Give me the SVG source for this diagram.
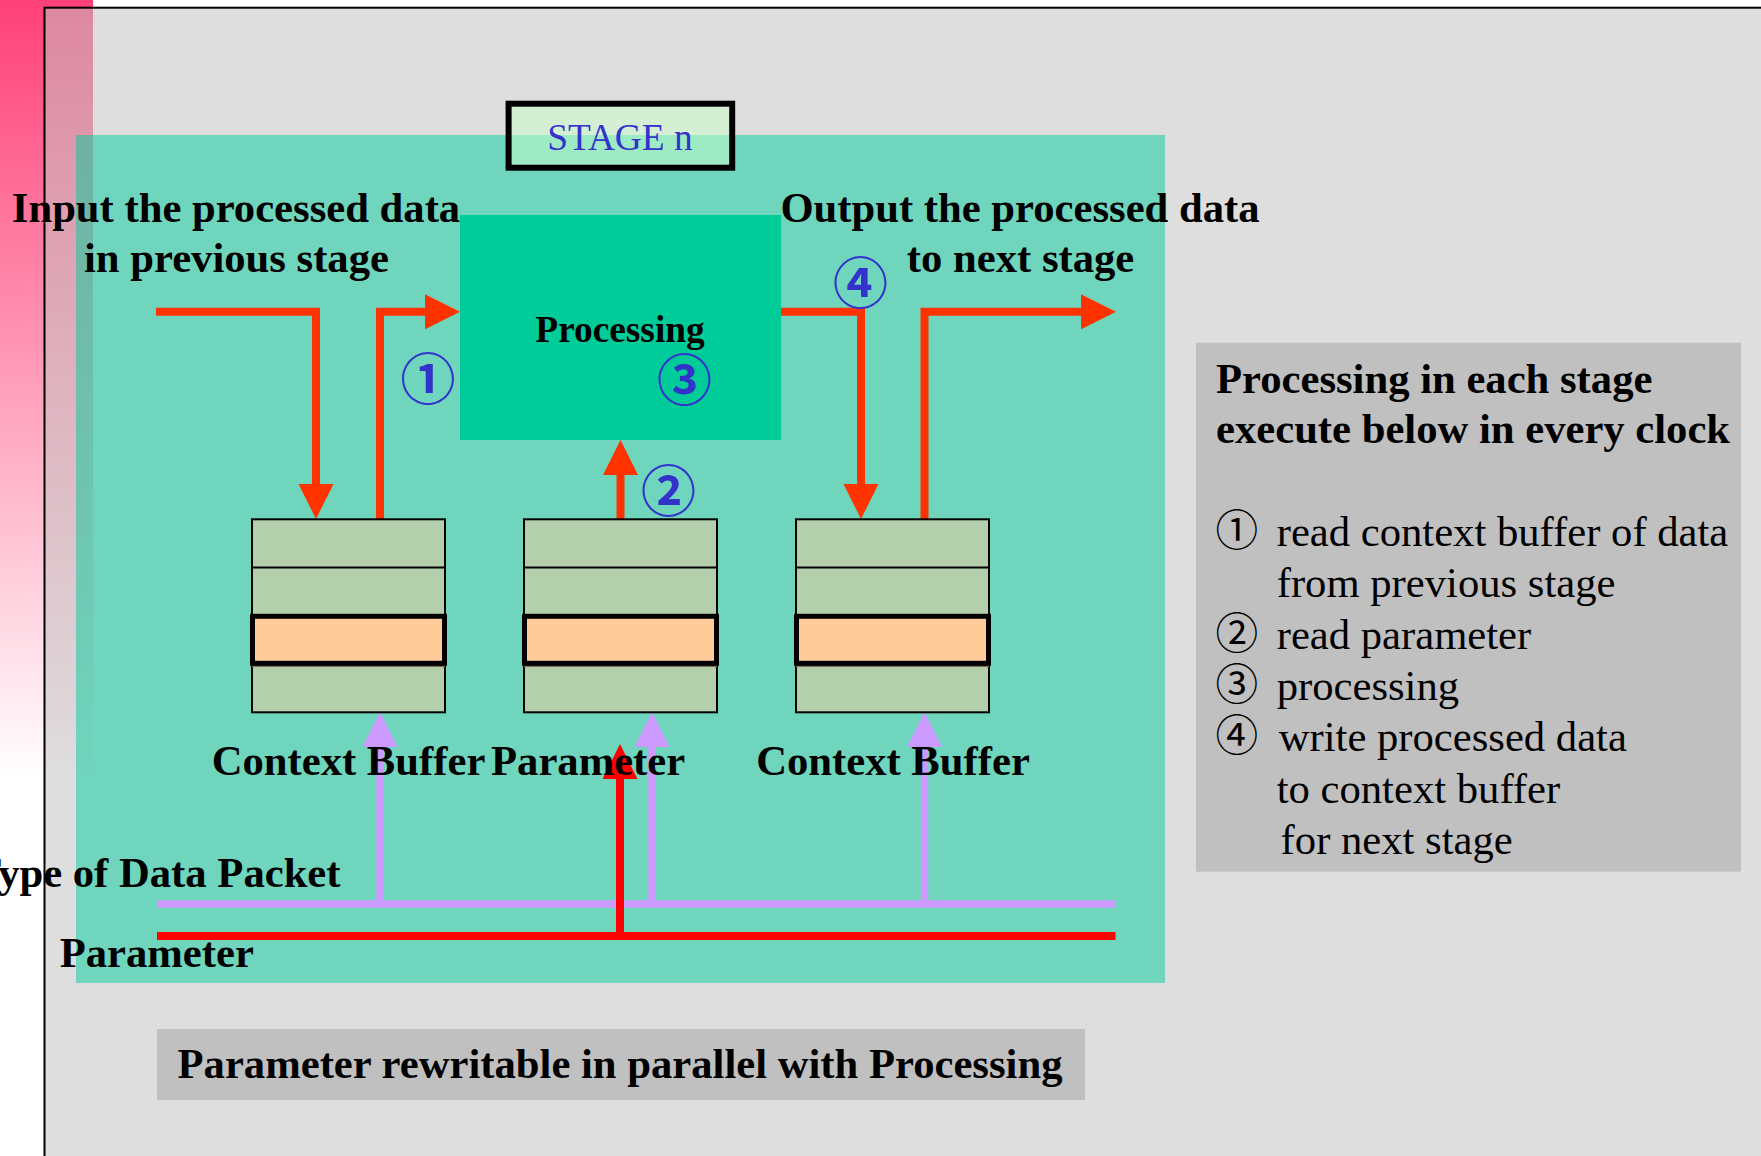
<svg xmlns="http://www.w3.org/2000/svg" width="1761" height="1156" viewBox="0 0 1761 1156">
<defs>
<linearGradient id="pink" x1="0" y1="0" x2="0" y2="780" gradientUnits="userSpaceOnUse">
<stop offset="0" stop-color="#ff4078"/>
<stop offset="1" stop-color="#ffffff"/>
</linearGradient>
<marker id="ah-o" markerUnits="userSpaceOnUse" markerWidth="36" markerHeight="36" refX="0" refY="17.5" orient="auto" viewBox="0 0 36 36"><path d="M0,0 L35,17.5 L0,35 Z" fill="#ff3300"/></marker>
<marker id="ah-r" markerUnits="userSpaceOnUse" markerWidth="36" markerHeight="36" refX="0" refY="17.5" orient="auto" viewBox="0 0 36 36"><path d="M0,0 L35,17.5 L0,35 Z" fill="#ff0000"/></marker>
<marker id="ah-l" markerUnits="userSpaceOnUse" markerWidth="36" markerHeight="36" refX="0" refY="17.5" orient="auto" viewBox="0 0 36 36"><path d="M0,0 L35,17.5 L0,35 Z" fill="#cc99ff"/></marker>
</defs>
<style>
.b{font-family:"Liberation Serif","Times New Roman",serif;font-weight:bold;font-size:42.67px;fill:#000}
.r{font-family:"Liberation Serif","Times New Roman",serif;font-size:42.67px;fill:#000}
.cd{font-family:"Noto Sans CJK JP","DejaVu Sans",sans-serif;font-weight:bold;fill:#3333cc;font-size:55px;text-anchor:middle;dominant-baseline:central}
.cl{font-family:"Noto Sans CJK JP","DejaVu Sans",sans-serif;font-size:42.67px}
.buf{fill:#b4cfac;stroke:#000;stroke-width:2}
.hl{fill:#ffcc99;stroke:#000;stroke-width:5}
.o{fill:none;stroke:#ff3300;stroke-width:8;stroke-linejoin:miter}
.rd{fill:none;stroke:#ff0000;stroke-width:8}
.lv{fill:none;stroke:#cc99ff;stroke-width:7.5}
</style>
<rect x="0" y="0" width="1761" height="1156" fill="#ffffff"/>
<rect x="0" y="0" width="93" height="1156" fill="url(#pink)"/>
<rect x="44.5" y="7.7" width="1760" height="1200" fill="#c3c3c3" fill-opacity="0.55" stroke="#000" stroke-width="2"/>
<rect id="stage-panel" x="76" y="135" width="1089" height="848" fill="#00cc99" fill-opacity="0.5"/>

<g id="connectors">
<path class="o" d="M156,311.7 H316 V484" marker-end="url(#ah-o)"/>
<path class="o" d="M380,519.3 V311.7 H425" marker-end="url(#ah-o)"/>
<path class="o" d="M620.5,519.3 V475" marker-end="url(#ah-o)"/>
<path class="o" d="M781,311.7 H861 V484" marker-end="url(#ah-o)"/>
<path class="o" d="M924.5,519.3 V311.7 H1081" marker-end="url(#ah-o)"/>
<path class="lv" d="M157,904 H1115.5"/>
<path class="lv" d="M380,904 V747" marker-end="url(#ah-l)"/>
<path class="lv" d="M652,904 V747" marker-end="url(#ah-l)"/>
<path class="lv" d="M924.5,904 V747" marker-end="url(#ah-l)"/>
<path class="rd" d="M157,936 H1115.5"/>
<path class="rd" d="M620,936 V779" marker-end="url(#ah-r)"/>
</g>

<g id="stage-label">
<rect x="508.6" y="103.7" width="223.6" height="64" fill="#ccffcc" fill-opacity="0.5" stroke="#000" stroke-width="6"/>
<text x="620" y="150" class="r" style="font-size:37.33px;fill:#3333cc" text-anchor="middle">STAGE n</text>
</g>

<g id="processing">
<rect x="460" y="215" width="321" height="225" fill="#00cc99"/>
<text x="620" y="341.7" class="b" style="font-size:37.33px" text-anchor="middle">Processing</text>
</g>

<g id="context-buffer-in">
<rect class="buf" x="252" y="519.3" width="193" height="193"/>
<line x1="252" y1="567.6" x2="445" y2="567.6" stroke="#000" stroke-width="2"/>
<line x1="252" y1="666" x2="445" y2="666" stroke="#7a6a55" stroke-width="2"/>
<rect class="hl" x="252.5" y="616.3" width="192" height="47"/>
<text x="348.5" y="775" class="b" text-anchor="middle">Context Buffer</text>
</g>

<g id="parameter-buffer">
<rect class="buf" x="524" y="519.3" width="193" height="193"/>
<line x1="524" y1="567.6" x2="717" y2="567.6" stroke="#000" stroke-width="2"/>
<line x1="524" y1="666" x2="717" y2="666" stroke="#7a6a55" stroke-width="2"/>
<rect class="hl" x="524.5" y="616.3" width="192" height="47"/>
<text x="491" y="775" class="b">Parameter</text>
</g>

<g id="context-buffer-out">
<rect class="buf" x="796" y="519.3" width="193" height="193"/>
<line x1="796" y1="567.6" x2="989" y2="567.6" stroke="#000" stroke-width="2"/>
<line x1="796" y1="666" x2="989" y2="666" stroke="#7a6a55" stroke-width="2"/>
<rect class="hl" x="796.5" y="616.3" width="192" height="47"/>
<text x="893" y="775" class="b" text-anchor="middle">Context Buffer</text>
</g>

<g id="labels">
<text x="236" y="221.7" class="b" text-anchor="middle">Input the processed data</text>
<text x="236.5" y="271.7" class="b" text-anchor="middle">in previous stage</text>
<text x="1020" y="221.7" class="b" text-anchor="middle">Output the processed data</text>
<text x="1020.6" y="271.7" class="b" text-anchor="middle">to next stage</text>
<text x="340.5" y="886.7" class="b" text-anchor="end">Type of Data Packet</text>
<text x="59.7" y="966.7" class="b">Parameter</text>
</g>

<g id="steps">
<text x="428" y="375" class="cd">①</text>
<text x="668.5" y="487" class="cd">②</text>
<text x="684.5" y="375.5" class="cd">③</text>
<text x="860.5" y="279" class="cd">④</text>
</g>

<g id="legend">
<rect x="1196" y="342.7" width="545" height="529" fill="#c0c0c0"/>
<text x="1216" y="392.5" class="b">Processing in each stage</text>
<text x="1216" y="443" class="b">execute below in every clock</text>
<text y="546" class="r"><tspan x="1215.5" class="cl">①</tspan><tspan x="1276.7">read context buffer of data</tspan></text>
<text x="1276.7" y="597.3" class="r">from previous stage</text>
<text y="648.6" class="r"><tspan x="1215.5" class="cl">②</tspan><tspan x="1276.7">read parameter</tspan></text>
<text y="699.9" class="r"><tspan x="1215.5" class="cl">③</tspan><tspan x="1276.7">processing</tspan></text>
<text y="751.2" class="r"><tspan x="1215.5" class="cl">④</tspan><tspan x="1278.7">write processed data</tspan></text>
<text x="1276.7" y="802.5" class="r">to context buffer</text>
<text x="1280.6" y="853.8" class="r">for next stage</text>
</g>

<g id="note">
<rect x="157" y="1029" width="928" height="71" fill="#c0c0c0"/>
<text x="620" y="1078" class="b" text-anchor="middle">Parameter rewritable in parallel with Processing</text>
</g>
</svg>
